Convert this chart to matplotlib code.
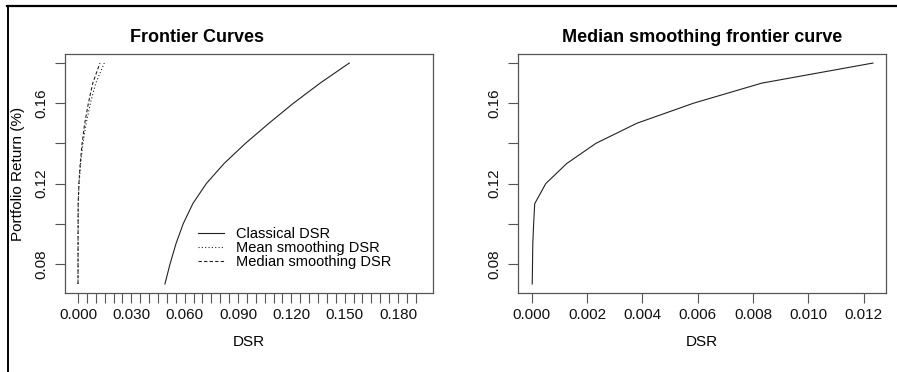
import matplotlib
matplotlib.use("Agg")
import matplotlib.pyplot as plt
from matplotlib.lines import Line2D
import numpy as np

plt.rcParams['font.family'] = ['Liberation Sans', 'DejaVu Sans']

# ---- data ----
returns = [0.07, 0.08, 0.09, 0.10, 0.11, 0.12, 0.13, 0.14, 0.15, 0.16, 0.17, 0.18]
classical_dsr = [0.0489, 0.0518, 0.0551, 0.0592, 0.0646, 0.0722, 0.0822,
                 0.0942, 0.1074, 0.1212, 0.1362, 0.1526]
mean_smooth_dsr = [0.00003, 0.00004, 0.00006, 0.00010, 0.00015, 0.00060,
                   0.00150, 0.00280, 0.00460, 0.00700, 0.01000, 0.01480]
median_smooth_dsr = [0.00002, 0.00003, 0.00004, 0.00007, 0.00011, 0.00051,
                     0.00127, 0.00232, 0.00380, 0.00585, 0.00832, 0.01234]

left_xticks = [0.000, 0.030, 0.060, 0.090, 0.120, 0.150, 0.180]
left_xticklabels = ["0.000", "0.030", "0.060", "0.090", "0.120", "0.150", "0.180"]
right_xticks = [0.000, 0.002, 0.004, 0.006, 0.008, 0.010, 0.012]
right_xticklabels = ["0.000", "0.002", "0.004", "0.006", "0.008", "0.010", "0.012"]
yticks = [0.08, 0.12, 0.16]
yticklabels = ["0.08", "0.12", "0.16"]
yminor = [0.10, 0.14, 0.18]

W, H = 897, 372
fig = plt.figure(figsize=(W / 100, H / 100), dpi=100)

def px_axes(x0, y0, x1, y1):
    return fig.add_axes([x0 / W, 1 - y1 / H, (x1 - x0) / W, (y1 - y0) / H])

axL = px_axes(65, 54, 433, 293)
axR = px_axes(518, 54, 886, 293)

line_col = '#222222'
spine_col = '#555555'
fs = 11

# left panel
axL.plot(classical_dsr, returns, color=line_col, lw=0.8, linestyle='-', label='Classical DSR')
axL.plot(mean_smooth_dsr, returns, color=line_col, lw=0.8, linestyle=(0, (1, 2)), label='Mean smoothing DSR')
axL.plot(median_smooth_dsr, returns, color=line_col, lw=0.8, linestyle=(0, (3, 2)), label='Median smoothing DSR')
axL.set_xlim(-0.0073, 0.1997)
axL.set_xticks(left_xticks)
axL.set_xticklabels(left_xticklabels)
axL.set_xticks(np.arange(0, 0.1901, 0.005), minor=True)

# right panel
axR.plot(median_smooth_dsr, returns, color=line_col, lw=0.8)
axR.set_xlim(-0.000495, 0.01281)
axR.set_xticks(right_xticks)
axR.set_xticklabels(right_xticklabels)

for ax in (axL, axR):
    ax.set_ylim(0.0655, 0.1845)
    ax.set_yticks(yticks)
    ax.set_yticklabels(yticklabels, rotation=90, va='center')
    ax.set_yticks(yminor, minor=True)
    for s in ax.spines.values():
        s.set_color(spine_col)
        s.set_linewidth(0.9)
    ax.tick_params(which='both', length=7, width=0.8, color=spine_col,
                   labelsize=fs, labelcolor='#111111')
    ax.tick_params(axis='x', which='both', pad=4)
    ax.tick_params(axis='y', which='both', pad=5)
    ax.set_xlabel('DSR', fontsize=fs, labelpad=9)

axL.set_ylabel('Portfolio Return (%)', fontsize=fs, labelpad=7)

leg = axL.legend(loc='upper left', bbox_to_anchor=((198 - 65) / 368, 1 - (227 - 54) / 239),
                 frameon=False, fontsize=10.5, handlelength=1.75, handletextpad=0.85,
                 labelspacing=0.0, borderpad=0, borderaxespad=0)

fig.text(197 / W, 1 - 38 / H, 'Frontier Curves', ha='center', va='center',
         fontsize=13, fontweight='bold')
fig.text(702 / W, 1 - 38 / H, 'Median smoothing frontier curve', ha='center', va='center',
         fontsize=13, fontweight='bold')

# outer frame lines (top and left)
fig.add_artist(Line2D([7 / W, 1], [1 - 5.5 / H, 1 - 5.5 / H], color='black', lw=1.6,
                      transform=fig.transFigure))
fig.add_artist(Line2D([7.5 / W, 7.5 / W], [0, 1 - 5.5 / H], color='black', lw=1.4,
                      transform=fig.transFigure))

fig.savefig('out.png', dpi=100)
